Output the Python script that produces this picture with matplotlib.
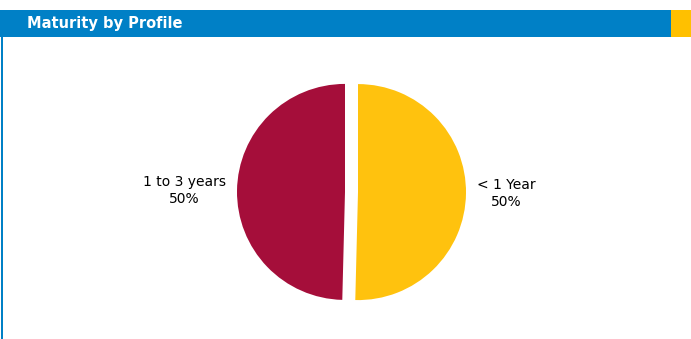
import matplotlib.pyplot as plt
from matplotlib.patches import Rectangle

# Data
labels = ['< 1 Year', '1 to 3 years']
shares = [50.4, 49.6]
colors = ['#FFC20E', '#A50E3A']

W, H = 691, 339
fig = plt.figure(figsize=(W / 100, H / 100), dpi=100)
ax = fig.add_axes([0, 0, 1, 1])

# header bar and frame
ax.add_patch(Rectangle((0, H - 37), 671, 27, color='#0080C6', lw=0))
ax.add_patch(Rectangle((671, H - 37), 20, 27, color='#FFC000', lw=0))
ax.add_patch(Rectangle((1, 0), 2.5, H - 37, color='#0080C6', lw=0))
ax.text(27, H - 23.5, 'Maturity by Profile', color='white', fontsize=10.5,
        fontweight='bold', va='center', ha='left')

# pie
text_labels = [f'{l}\n{round(s)}%' for l, s in zip(labels, shares)]
wedges, texts = ax.pie(shares, labels=text_labels, colors=colors, startangle=90,
                       counterclock=False, center=(351.5, H - 192), radius=108,
                       explode=[6.5, 6.5], labeldistance=1.1,
                       wedgeprops=dict(linewidth=0),
                       textprops=dict(fontsize=10, multialignment='center',
                                      linespacing=1.35))
# pie picks alignment from absolute x, so fix it for the left label
texts[0].set_ha('left')
texts[1].set_ha('right')

ax.set_xlim(0, W)
ax.set_ylim(0, H)
ax.set_aspect('equal')
ax.axis('off')

plt.savefig('out.png', dpi=100)
